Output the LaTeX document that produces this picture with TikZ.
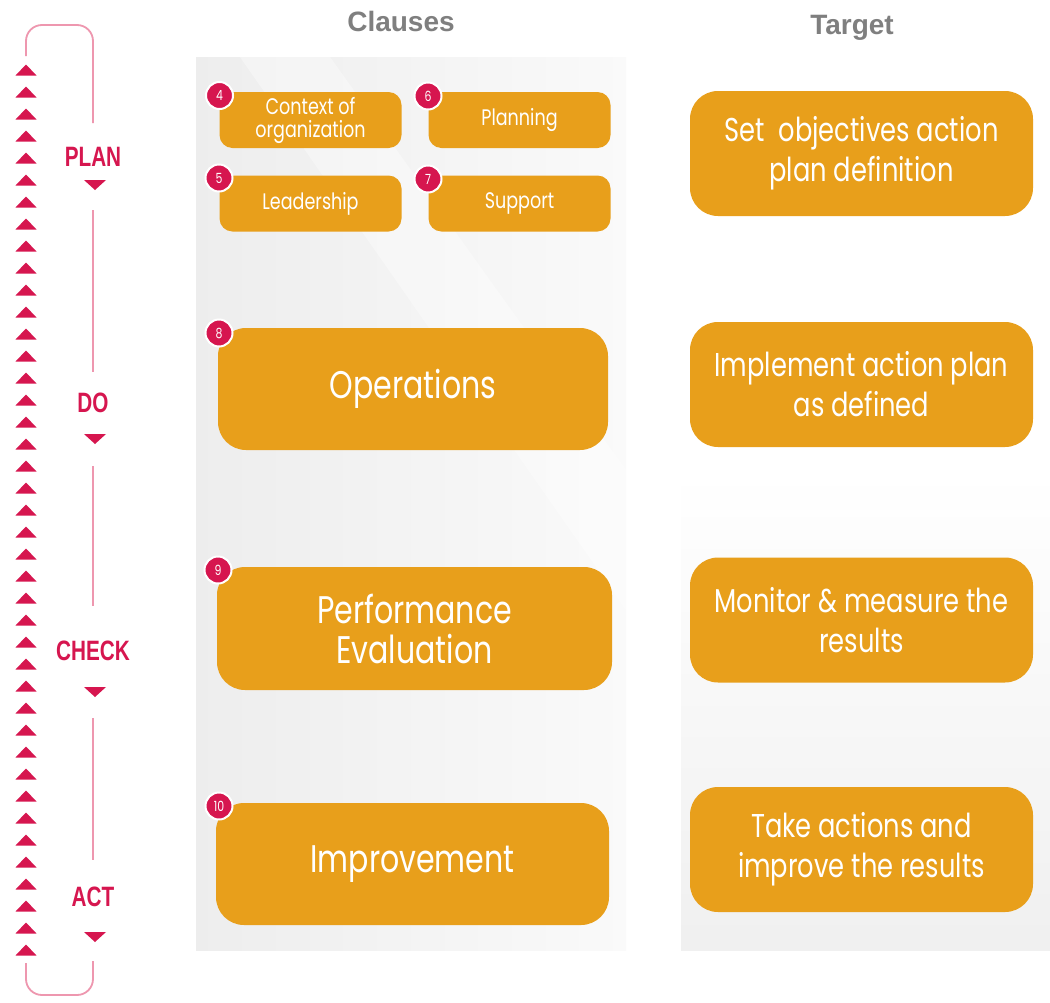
\documentclass[tikz,border=0pt]{standalone}
\usepackage{fontspec}
\setmainfont{Poppins}
\newfontfamily\boxfont[FakeStretch=0.78]{Poppins}
\newfontfamily\pdcafont[FakeStretch=0.74]{Liberation Sans}
\newfontfamily\headfont{Liberation Sans}
\definecolor{boxorange}{HTML}{E89F1B}
\definecolor{crim}{HTML}{D6164F}
\definecolor{pinkline}{HTML}{EE97AF}
\definecolor{headgray}{HTML}{7F7F7F}
\tikzset{
  ibox/.style={fill=boxorange, text=white, align=center, inner sep=0pt, rounded corners=28pt},
  sbox/.style={fill=boxorange, text=white, align=center, inner sep=0pt, rounded corners=13pt,
    minimum width=182pt, minimum height=56pt, font=\boxfont\fontsize{22.5}{23}\selectfont},
  cbox/.style={ibox, font=\boxfont\fontsize{38.5}{40}\selectfont},
  tbox/.style={ibox, minimum width=343pt, minimum height=125pt, font=\boxfont\fontsize{33}{40}\selectfont},
  badge/.style={circle, fill=crim, draw=white, line width=2pt, inner sep=0pt, minimum size=27pt,
    text=white, font=\boxfont\fontsize{14}{14}\selectfont},
  phase/.style={text=crim, inner sep=0pt, font=\pdcafont\bfseries\fontsize{28}{28}\selectfont},
  header/.style={text=headgray, inner sep=0pt, font=\headfont\bfseries\fontsize{28}{28}\selectfont},
  bracket/.style={draw=pinkline, line width=1.8pt},
}
\begin{document}
\begin{tikzpicture}[x=1pt,y=-1pt]
\useasboundingbox (0,0) rectangle (1050,1002);
\fill[white] (0,0) rectangle (1050,1002);
% background panels
\shade[left color=black!7, right color=black!2] (196,57) rectangle (626,950);
\fill[white, opacity=0.35] (240,57) -- (330,57) -- (626,470) -- (626,610) -- cycle;
\shade[top color=white, bottom color=black!6] (681,470) rectangle (1050,950);
% headers
\node[header] (hclauses) at (401,21) {Clauses};
\node[header] (htarget) at (852,28) {Target};
% left cycle: up triangles
\foreach \i in {0,...,40}{
  \fill[crim] (15.5,{75.5+22*\i}) -- (36.5,{75.5+22*\i}) -- (26,{64.5+22*\i}) -- cycle;
}
% phase labels
\node[phase] (plan) at (93,157) {PLAN};
\node[phase] (do) at (93,403) {DO};
\node[phase] (check) at (93,651) {CHECK};
\node[phase] (act) at (93,897) {ACT};
% down triangles
\foreach \y in {185,439,692,937}{
  \fill[crim] (84,{\y-5}) -- (106,{\y-5}) -- (95,{\y+5}) -- cycle;
}
% bracket lines
\draw[bracket, rounded corners=16pt] (26,56) -- (26,25) -- (93,25) -- (93,123);
\draw[bracket] (93,210) -- (93,372);
\draw[bracket] (93,466) -- (93,606);
\draw[bracket] (93,718) -- (93,860);
\draw[bracket, rounded corners=16pt] (93,961) -- (93,995) -- (26,995) -- (26,963);
% clause boxes
\node[sbox] (c4) at (310.5,120) {Context of\\organization};
\node[sbox] (c6) at (519.5,120) {Planning};
\node[sbox] (c5) at (310.5,203.5) {Leadership};
\node[sbox] (c7) at (519.5,203.5) {Support};
\node[cbox, minimum width=390pt, minimum height=122pt] (c8) at (413,389) {Operations};
\node[cbox, minimum width=395pt, minimum height=123pt] (c9) at (414.5,628.5) {Performance\\Evaluation};
\node[cbox, minimum width=393pt, minimum height=122pt] (c10) at (412.5,864) {Improvement};
% badges
\node[badge] (b4) at (219.5,95.5) {4};
\node[badge] (b6) at (428,96) {6};
\node[badge] (b5) at (219,178) {5};
\node[badge] (b7) at (428,179) {7};
\node[badge] (b8) at (219,333) {8};
\node[badge] (b9) at (218,570) {9};
\node[badge] (b10) at (219,806) {10};
% target boxes
\node[tbox] (t1) at (861.5,153.5) {Set\ \ objectives action\\plan definition};
\node[tbox] (t2) at (861.5,384.5) {Implement action plan\\as defined};
\node[tbox] (t3) at (861.5,620) {Monitor \& measure the\\results};
\node[tbox] (t4) at (861.5,849.5) {Take actions and\\improve the results};
\end{tikzpicture}
\end{document}
